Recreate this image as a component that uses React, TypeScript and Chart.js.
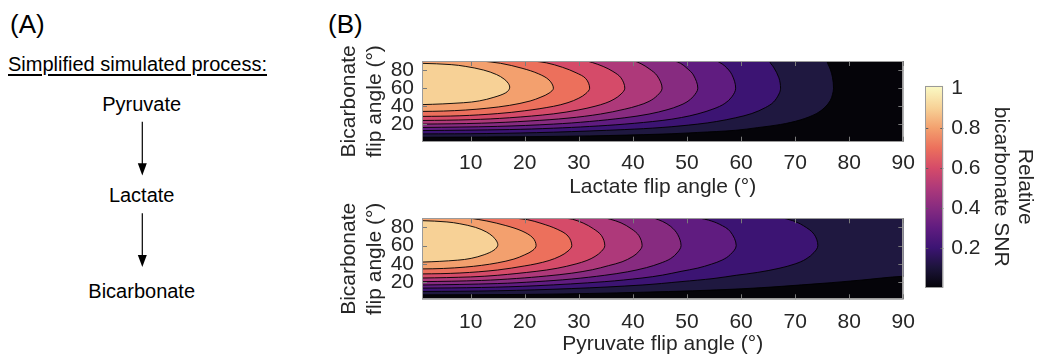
import React, { useEffect, useRef } from 'react';
import { Chart, registerables } from 'chart.js';

Chart.register(...registerables);

// ---------------- data ----------------
const X_TICKS = [10, 20, 30, 40, 50, 60, 70, 80, 90];
const Y_TICKS = [20, 40, 60, 80];
const X_MIN = 1;
const X_MAX = 90;
const Y_MIN = 1;
const Y_MAX = 90;
const CB_TICKS = [0.2, 0.4, 0.6, 0.8, 1];
const CB_TICK_LABELS = ['0.2', '0.4', '0.6', '0.8', '1'];
const CB_MIN = 0;
const CB_MAX = 1.013;

const LEVELS = [0.1, 0.2, 0.3, 0.4, 0.5, 0.6, 0.7, 0.8, 0.9];
// band colours: below 0.1, 0.1-0.2, ..., above 0.9
const BAND_COLORS = ['#050409', '#1f1840', '#3c1473', '#601c80', '#872b80', '#ae397a', '#d54b69', '#ec705c', '#f3a06e', '#f7d196'];
const CMAP_STOPS = [0, 0.1, 0.2, 0.3, 0.4, 0.5, 0.6, 0.7, 0.8, 0.9, 1];
const CMAP_COLORS = ['#050409', '#1c143a', '#3c1473', '#601c80', '#872b80', '#ae397a', '#d54b69', '#ec705c', '#f3a06e', '#f7d196', '#faf6c0'];

const TOP_X_TITLE = 'Lactate flip angle (°)';
const BOT_X_TITLE = 'Pyruvate flip angle (°)';
const Y_TITLE = ['Bicarbonate', 'flip angle (°)'];
const CB_TITLE = ['Relative', 'bicarbonate SNR'];
const PANEL_A = '(A)';
const PANEL_B = '(B)';
const PANEL_A_TITLE = 'Simplified simulated process:';
const STEPS = ['Pyruvate', 'Lactate', 'Bicarbonate'];

// contour lines (x = flip angle on x-axis, y = bicarbonate flip angle), upper panel
const TOP_C10 = [[1, 5.9], [17, 6.4], [32, 7.4], [45.4, 9.4], [52, 11.2], [59, 13.6], [63, 16.5], [67.3, 20.0], [71, 25.1], [74, 32.2], [75.5, 38.9], [76.5, 46.4], [76.9, 53], [77.1, 60], [76.9, 72.1], [76.5, 80.8], [76, 87.5], [75.5, 94.3]];
const TOP_C20 = [[1, 9.6], [13, 10.0], [25.3, 11.5], [38.5, 14.4], [45.4, 16.7], [52, 20.4], [55.5, 23.3], [59, 27.4], [62, 32.1], [64.5, 38.6], [66, 44.7], [67, 53.5], [67.3, 60], [67, 71.4], [66, 83.3], [65.5, 87.1], [65, 91.2]];
const TOP_C30 = [[1, 13.3], [17.2, 14.4], [25.3, 15.9], [32, 17.8], [38.5, 20.4], [45.4, 24.4], [49, 27.7], [52, 31.7], [55, 37.4], [57, 43.2], [58.3, 50.5], [59, 60], [58.3, 75], [57, 84.5], [56, 88.5], [55.3, 91], [54.5, 93]];
const TOP_C40 = [[1, 16.7], [15, 17.9], [25.3, 20.4], [32, 23.3], [38.5, 27.4], [43, 31.5], [46.5, 36.5], [48.5, 40.6], [50, 44.9], [51.2, 51.1], [52, 60], [51.2, 74.5], [50, 82], [48.8, 87.5], [47.7, 90], [46.5, 93]];
const TOP_C50 = [[1, 20.4], [12, 21.4], [21, 23.9], [28, 27.0], [34, 31.5], [38.5, 36.9], [41, 40.9], [43, 45.5], [44.5, 51.9], [45.4, 60], [44.5, 73.6], [43, 81.5], [41.5, 87], [40.3, 90], [39, 93]];
const TOP_C60 = [[1, 24.4], [10, 25.3], [17.2, 27.4], [25.3, 31.7], [30, 36.1], [33, 40.1], [35, 43.7], [36.5, 47.8], [37.8, 53.5], [38.5, 60], [37.8, 71.4], [36.3, 78.5], [34.5, 84], [32.5, 88.3], [31.4, 90], [30, 92]];
const TOP_C70 = [[1, 28.9], [8, 29.6], [15, 32.0], [20, 35.1], [25.3, 40.0], [28, 44.1], [30, 49.0], [31.3, 54.1], [32, 60], [31.3, 70.5], [29.5, 77], [27, 83], [24, 88], [21.5, 90], [19, 92]];
const TOP_C80 = [[1, 34.4], [5, 34.8], [9, 35.9], [13, 37.9], [17.2, 41.1], [21, 45.9], [23, 50.2], [24.5, 54.6], [25.3, 60], [24.5, 69], [22.5, 76], [19.5, 82], [15.5, 87.5], [12, 90], [9, 92.5]];
const TOP_C90 = [[1, 41.9], [8.7, 44], [11.6, 46], [14.3, 50], [16.5, 55], [17.2, 60], [17.0, 65], [16.2, 70], [14.8, 75], [12.4, 80], [9.1, 84], [6.4, 86], [1, 87.4]];

// lower panel
const BOT_C10 = [[1, 5.9], [22, 6.5], [42, 8.8], [60, 12.5], [75, 18.5], [82, 22.0], [90, 26.3]];
const BOT_C20 = [[1, 9.6], [15, 10.4], [28.7, 12.8], [41.7, 16.7], [48.9, 20.4], [55, 23.9], [59.1, 27.4], [63, 30.5], [67, 35.0], [70, 39.9], [72, 45.2], [73.5, 52.5], [74.2, 60], [73.5, 72.5], [71.5, 82], [69.5, 87.5], [67.5, 90.5], [66, 92.5]];
const BOT_C30 = [[1, 13.3], [12, 14.0], [22.1, 15.9], [34.8, 20.4], [41.7, 24.4], [45.5, 27.6], [48.9, 31.7], [52, 35.3], [54.5, 39.6], [56.5, 44.1], [58, 50.1], [59.1, 60], [58, 75.5], [56, 83.5], [54, 88], [52.5, 90], [51, 92.5]];
const BOT_C40 = [[1, 16.7], [15, 18.3], [22.1, 20.4], [28.7, 23.3], [34.8, 27.4], [39, 31.2], [42.5, 35.8], [45, 40.5], [47, 45.8], [48.3, 52.9], [48.9, 60], [48.3, 72], [47, 81], [45.5, 86.5], [44, 90], [43, 92.5]];
const BOT_C50 = [[1, 20.4], [12, 21.7], [18.5, 23.9], [24, 26.6], [28.7, 29.7], [32.5, 33.5], [35.5, 38.0], [38, 42.2], [40, 48.1], [41.1, 53.6], [41.7, 60], [41.1, 71], [39.7, 78.5], [37.8, 85], [35.8, 89], [34.8, 90.5], [33.5, 93]];
const BOT_C60 = [[1, 24.4], [10, 25.6], [15, 27.4], [22.1, 31.7], [26, 35.1], [29.5, 39.9], [31.5, 43.7], [33, 48.1], [34.2, 53.8], [34.8, 60], [34.2, 70.9], [32.7, 78.5], [30.8, 84.8], [28.8, 89], [27.7, 90], [26, 92.5]];
const BOT_C70 = [[1, 28.9], [8, 29.9], [15, 33.2], [20, 37.7], [22.1, 40.0], [24.5, 43.6], [26.5, 48.3], [28, 54.0], [28.7, 60], [28, 70.5], [26, 78], [23, 84.5], [20.5, 88.5], [18.5, 90], [16, 92.5]];
const BOT_C80 = [[1, 34.4], [5, 34.9], [9, 36.4], [12, 38.3], [15, 41.1], [18, 45.2], [20, 49.9], [21.5, 54.8], [22.1, 60], [21.5, 68.5], [19.5, 76], [16.5, 82], [13, 87], [10, 90], [7, 92.5]];
const BOT_C90 = [[1, 41.9], [7.6, 44], [10.1, 46], [12.5, 50], [14.3, 55], [15, 60], [14.8, 65], [14.1, 70], [12.9, 75], [10.9, 80], [8, 84], [5.6, 86], [1, 87.4]];

const TOP_CONTOURS = [TOP_C10, TOP_C20, TOP_C30, TOP_C40, TOP_C50, TOP_C60, TOP_C70, TOP_C80, TOP_C90];
const BOT_CONTOURS = [BOT_C10, BOT_C20, BOT_C30, BOT_C40, BOT_C50, BOT_C60, BOT_C70, BOT_C80, BOT_C90];

// ---------------- helpers ----------------
const FONT = "'Liberation Sans', Arial, Helvetica, sans-serif";
const TEXT_COLOR = '#262626';

// close a contour region outside the visible axes so the filled shape is the "above level" area
function closeRegion(pts: number[][]) {
  const left = X_MIN - 6;
  const right = X_MAX + 6;
  const above = Y_MAX + 12;
  const first = pts[0];
  const last = pts[pts.length - 1];
  const out: number[][] = [[left, first[1]], ...pts];
  if (last[0] >= X_MAX) out.push([right, last[1]], [right, above], [left, above]);
  else if (last[1] >= Y_MAX) out.push([left, above]);
  else out.push([left, last[1]]);
  return out.map(([x, y]) => ({ x, y }));
}

function contourDatasets(contours: number[][][]) {
  return contours.map((pts, k) => ({
    label: String(LEVELS[k]),
    data: closeRegion(pts),
    fill: 'shape',
    backgroundColor: BAND_COLORS[k + 1],
    borderColor: 'rgba(0,0,0,0.9)',
    borderWidth: 1,
    tension: 0.35,
    pointRadius: 0,
    pointHoverRadius: 0,
    pointHitRadius: 0,
    order: LEVELS.length - k,
  }));
}

function makeFramePlugin(cfg: { background?: string; xTicks?: number[]; yTicks?: number[]; tickLength: number; tickColor: string; borderColor: string }) {
  return {
    id: 'frame',
    beforeDatasetsDraw(chart: any) {
      if (!cfg.background) return;
      const { ctx, chartArea: a } = chart;
      ctx.save();
      ctx.fillStyle = cfg.background;
      ctx.fillRect(a.left, a.top, a.right - a.left, a.bottom - a.top);
      ctx.restore();
    },
    afterDatasetsDraw(chart: any) {
      const { ctx, chartArea: a, scales } = chart;
      const len = cfg.tickLength;
      ctx.save();
      ctx.lineWidth = 1;
      ctx.strokeStyle = cfg.tickColor;
      ctx.beginPath();
      (cfg.xTicks || []).forEach((v) => {
        const px = Math.round(scales.x.getPixelForValue(v)) + 0.5;
        ctx.moveTo(px, a.top);
        ctx.lineTo(px, a.top + len);
        ctx.moveTo(px, a.bottom);
        ctx.lineTo(px, a.bottom - len);
      });
      (cfg.yTicks || []).forEach((v) => {
        const py = Math.round(scales.y.getPixelForValue(v)) + 0.5;
        ctx.moveTo(a.left, py);
        ctx.lineTo(a.left + len, py);
        ctx.moveTo(a.right, py);
        ctx.lineTo(a.right - len, py);
      });
      ctx.stroke();
      ctx.strokeStyle = cfg.borderColor;
      const l = Math.round(a.left) + 0.5;
      const t = Math.round(a.top) + 0.5;
      const r = Math.round(a.right) - 0.5;
      const b = Math.round(a.bottom) - 0.5;
      ctx.strokeRect(l, t, r - l, b - t);
      ctx.restore();
    },
  };
}

function contourConfig(contours: number[][][], xTitle: string, lay: { top: number; bottom: number; right: number; xHeight: number; tickPad: number; titlePad: number }) {
  return {
    type: 'line',
    data: { datasets: contourDatasets(contours) },
    options: {
      responsive: false,
      animation: false,
      events: [],
      layout: { padding: { left: 0, top: lay.top, right: lay.right, bottom: lay.bottom } },
      elements: { line: { capBezierPoints: false } },
      plugins: { legend: { display: false }, tooltip: { enabled: false } },
      scales: {
        x: {
          type: 'linear',
          min: X_MIN,
          max: X_MAX,
          afterBuildTicks: (s: any) => { s.ticks = X_TICKS.map((value) => ({ value })); },
          afterFit: (s: any) => { s.height = lay.xHeight; s.paddingLeft = 0; s.paddingRight = 0; },
          grid: { display: false, drawTicks: false },
          border: { display: false },
          ticks: { padding: lay.tickPad, maxRotation: 0, autoSkip: false, color: TEXT_COLOR, font: { family: FONT, size: 21 }, callback: (v: any) => String(v) },
          title: { display: true, text: xTitle, color: TEXT_COLOR, font: { family: FONT, size: 21, lineHeight: 1.2 }, padding: { top: 0, bottom: lay.titlePad } },
        },
        y: {
          type: 'linear',
          min: Y_MIN,
          max: Y_MAX,
          afterBuildTicks: (s: any) => { s.ticks = Y_TICKS.map((value) => ({ value })); },
          afterFit: (s: any) => { s.width = 102; s.paddingTop = 0; s.paddingBottom = 0; },
          grid: { display: false, drawTicks: false },
          border: { display: false },
          ticks: { padding: 8, autoSkip: false, color: TEXT_COLOR, font: { family: FONT, size: 21 }, callback: (v: any) => String(v) },
          title: { display: true, text: Y_TITLE, color: TEXT_COLOR, font: { family: FONT, size: 21, lineHeight: 26 / 21 }, padding: { top: 16, bottom: 0 } },
        },
      },
    },
    plugins: [makeFramePlugin({ background: BAND_COLORS[0], xTicks: X_TICKS, yTicks: Y_TICKS, tickLength: 5, tickColor: '#7a7a7a', borderColor: '#9a9a9a' })],
  };
}

function colorbarConfig() {
  return {
    type: 'bar',
    data: {
      labels: [''],
      datasets: [{
        data: [[CB_MIN, CB_MAX]],
        barPercentage: 1,
        categoryPercentage: 1,
        borderWidth: 0,
        backgroundColor: (c: any) => {
          const chart = c.chart;
          const ys = chart.scales && chart.scales.y;
          if (!ys) return CMAP_COLORS[0];
          const y0 = ys.getPixelForValue(0);
          const y1 = ys.getPixelForValue(1);
          if (!isFinite(y0) || !isFinite(y1) || y0 === y1) return CMAP_COLORS[5];
          const g = chart.ctx.createLinearGradient(0, y0, 0, y1);
          CMAP_STOPS.forEach((s, i) => g.addColorStop(s, CMAP_COLORS[i]));
          return g;
        },
      }],
    },
    options: {
      responsive: false,
      animation: false,
      events: [],
      layout: { padding: { left: 25.3, top: 25.7, right: 0, bottom: 12.3 } },
      plugins: { legend: { display: false }, tooltip: { enabled: false } },
      scales: {
        x: { display: false },
        y: {
          position: 'right',
          min: CB_MIN,
          max: CB_MAX,
          afterBuildTicks: (s: any) => { s.ticks = CB_TICKS.map((value) => ({ value })); },
          afterFit: (s: any) => { s.width = 93.7; s.paddingTop = 0; s.paddingBottom = 0; },
          grid: { display: false, drawTicks: false },
          border: { display: false },
          ticks: { padding: 8, autoSkip: false, color: TEXT_COLOR, font: { family: FONT, size: 21 }, callback: (_v: any, i: number) => CB_TICK_LABELS[i] },
          title: { display: true, text: CB_TITLE, color: TEXT_COLOR, font: { family: FONT, size: 21, lineHeight: 24 / 21 }, padding: { top: 0, bottom: 0 } },
        },
      },
    },
    plugins: [makeFramePlugin({ yTicks: CB_TICKS.slice(0, 4), tickLength: 3, tickColor: '#5a5a5a', borderColor: '#9a9a9a' })],
  };
}

function ChartCanvas({ make, left, top, width, height }: { make: () => any; left: number; top: number; width: number; height: number }) {
  const ref = useRef<HTMLCanvasElement | null>(null);
  useEffect(() => {
    if (!ref.current) return;
    const chart = new Chart(ref.current, make());
    return () => chart.destroy();
  }, []);
  return <canvas ref={ref} width={width} height={height} style={{ position: 'absolute', left, top, width, height }} />;
}

const textStyle = (size: number) => ({ position: 'absolute' as const, fontFamily: FONT, fontSize: size, lineHeight: `${size}px`, color: '#000', whiteSpace: 'nowrap' as const });

export default function App() {
  return (
    <div style={{ position: 'absolute', left: 0, top: 0, width: 1037, height: 358, overflow: 'hidden', background: '#fff' }}>
      {/* Panel A */}
      <div style={{ ...textStyle(26), left: 10, top: 11.3 }}>{PANEL_A}</div>
      <div style={{ ...textStyle(20), left: 8, top: 53.8, textDecoration: 'underline', textUnderlineOffset: '3px' }}>{PANEL_A_TITLE}</div>
      <div style={{ ...textStyle(20), left: 41.7, width: 200, textAlign: 'center', top: 93.8 }}>{STEPS[0]}</div>
      <div style={{ ...textStyle(20), left: 41.7, width: 200, textAlign: 'center', top: 185.4 }}>{STEPS[1]}</div>
      <div style={{ ...textStyle(20), left: 41.7, width: 200, textAlign: 'center', top: 280.8 }}>{STEPS[2]}</div>
      <svg width={300} height={358} style={{ position: 'absolute', left: 0, top: 0 }}>
        <line x1={142.3} y1={121.7} x2={142.3} y2={165} stroke="#000" strokeWidth={1.2} />
        <polygon points="137.8,163.3 146.8,163.3 142.3,175.5" fill="#000" />
        <line x1={142.3} y1={213.3} x2={142.3} y2={257} stroke="#000" strokeWidth={1.2} />
        <polygon points="137.8,255 146.8,255 142.3,267" fill="#000" />
      </svg>
      {/* Panel B */}
      <div style={{ ...textStyle(26), left: 328, top: 10.7 }}>{PANEL_B}</div>
      <ChartCanvas make={() => contourConfig(TOP_CONTOURS, TOP_X_TITLE, { top: 61, bottom: 3.3, right: 14.7, xHeight: 60, tickPad: 9, titlePad: 1.6 })} left={320} top={0} width={598} height={205} />
      <ChartCanvas make={() => contourConfig(BOT_CONTOURS, BOT_X_TITLE, { top: 28.3, bottom: 0.7, right: 14.7, xHeight: 58, tickPad: 10, titlePad: 0.2 })} left={320} top={190} width={598} height={168} />
      <ChartCanvas make={colorbarConfig} left={900} top={60} width={137} height={240} />
    </div>
  );
}
